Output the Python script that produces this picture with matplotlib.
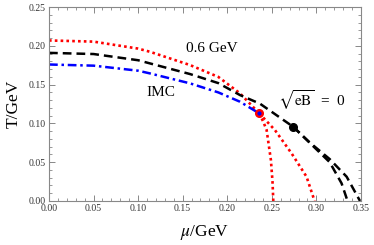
import numpy as np
import matplotlib
matplotlib.use('Agg')
import matplotlib.pyplot as plt
from matplotlib.ticker import MultipleLocator

plt.rcParams['font.family'] = ['Liberation Serif', 'DejaVu Serif']
plt.rcParams['mathtext.fontset'] = 'stix'

## Data
# 0.6 GeV curve (red dotted), upper part then two branches below the endpoint
red_mu = [0.0, 0.05, 0.10, 0.1133, 0.1582, 0.19, 0.2143, 0.2359]
red_T = [0.207, 0.2055, 0.1965, 0.1924, 0.1753, 0.160, 0.1388, 0.113]
red_left_mu = [0.2359, 0.2405, 0.2442, 0.249, 0.2508, 0.2517]
red_left_T = [0.113, 0.102, 0.0915, 0.0528, 0.025, 0.0]
red_right_mu = [0.2359, 0.2535, 0.2722, 0.289, 0.2980]
red_right_T = [0.113, 0.0915, 0.0614, 0.0313, 0.0]

# eB = 0 curve (black dashed)
blk_mu = [0.0, 0.05, 0.10, 0.1133, 0.1582, 0.19, 0.2143, 0.2367, 0.274]
blk_T = [0.191, 0.1895, 0.1815, 0.1774, 0.1637, 0.152, 0.1366, 0.1255, 0.0957]
blk_in_mu = [0.274, 0.293, 0.315, 0.3283, 0.3350]
blk_in_T = [0.0957, 0.0745, 0.0500, 0.0228, 0.0]
blk_out_mu = [0.274, 0.293, 0.315, 0.334, 0.349]
blk_out_T = [0.0957, 0.0750, 0.0540, 0.0313, 0.0]

# IMC curve (blue dash-dot)
imc_mu = [0.0, 0.05, 0.10, 0.1133, 0.1582, 0.19, 0.2143, 0.2359]
imc_T = [0.176, 0.1745, 0.168, 0.1645, 0.1517, 0.140, 0.128, 0.113]

# end points
cep_red = (0.2359, 0.113)
cep_blk = (0.274, 0.0957)

fig = plt.figure(figsize=(3.74, 2.45), dpi=100)
ax = fig.add_axes([0.131, 0.1796, 0.834, 0.7914])

red = '#ff0000'
ax.plot(red_mu, red_T, color=red, lw=1.9, ls=(0, (1, 1.2)))
ax.plot(red_left_mu, red_left_T, color=red, lw=1.9, ls=(0, (1, 1.2)))
ax.plot(red_right_mu, red_right_T, color=red, lw=1.9, ls=(0, (1, 1.2)))

ax.plot(blk_mu, blk_T, color='black', lw=1.8, ls=(0, (3.5, 2)))
ax.plot(blk_in_mu, blk_in_T, color='black', lw=1.8, ls=(0, (3.5, 2)))
ax.plot(blk_out_mu, blk_out_T, color='black', lw=1.8, ls=(0, (3.5, 2)))

ax.plot(imc_mu, imc_T, color='#0000ff', lw=1.8, ls=(0, (3.5, 1.5, 1, 1.5)))

ax.plot(*cep_red, 'o', color=red, ms=5.5, zorder=5)
ax.plot(*cep_red, 'o', color='#0000ff', ms=2, zorder=6)
ax.plot(*cep_blk, 'o', color='black', ms=5.5, zorder=5)

ax.text(0.183, 0.197, '0.6 GeV', fontsize=11, ha='center', va='center')
ax.text(0.1256, 0.1405, 'IMC', fontsize=11, ha='center', va='center')
ax.text(0.257, 0.130, r'$\sqrt{\mathrm{eB}}$  =  0', fontsize=11, ha='left', va='center')

ax.set_xlim(0, 0.35)
ax.set_ylim(0, 0.25)
ax.xaxis.set_major_locator(MultipleLocator(0.05))
ax.xaxis.set_minor_locator(MultipleLocator(0.01))
ax.yaxis.set_major_locator(MultipleLocator(0.05))
ax.yaxis.set_minor_locator(MultipleLocator(0.01))
ax.set_xticklabels([f'{v:.2f}' for v in ax.get_xticks()])
ax.set_yticklabels([f'{v:.2f}' for v in ax.get_yticks()])

gray = '#888888'
for s in ax.spines.values():
    s.set_color(gray)
    s.set_linewidth(0.8)
ax.tick_params(which='both', direction='in', top=True, right=True, color=gray,
               labelsize=7, labelcolor='#333333', pad=2.5)
ax.tick_params(which='major', length=4, width=0.7)
ax.tick_params(which='minor', length=2, width=0.6)

ax.set_xlabel(r'$\mu$/GeV', fontsize=12.5, labelpad=7)
ax.set_ylabel('T/GeV', fontsize=12.5, labelpad=5)

fig.savefig('out.png', dpi=100)
